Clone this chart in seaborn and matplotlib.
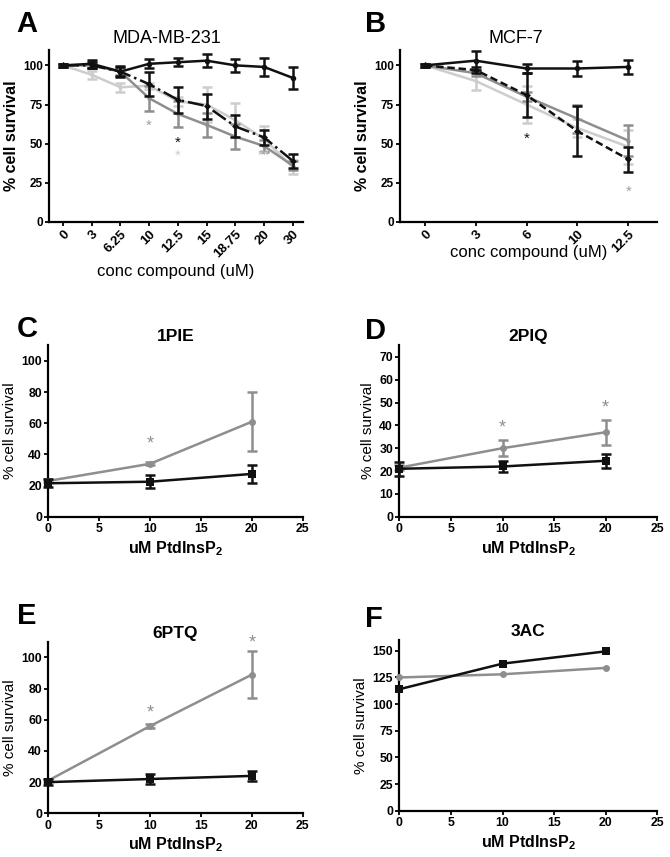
import numpy as np
import pandas as pd
import matplotlib
matplotlib.use('Agg')
import matplotlib.pyplot as plt
import seaborn as sns

# ---- data ----
# panel A, MDA-MB-231
conc_a = ['0', '3', '6.25', '10', '12.5', '15', '18.75', '20', '30']
a_ctrl = [100, 101, 96, 101, 102, 103, 100, 99, 92]
a_ctrl_err = [1, 2.5, 3.5, 3, 2.5, 4, 4, 6, 7]
a_dash = [100, 100, 96, 88, 78, 74, 61, 54, 39]
a_dash_err = [1, 2, 3, 7.5, 8.5, 8, 7, 5, 4.5]
a_dark = [100, 100, 96, 79, 69, 62, 54.5, 48.5, 36]
a_dark_err = [1, 1.5, 2, 8, 8.5, 7.5, 8, 4, 3]
a_light = [100, 94, 86, 87, 77, 75, 65, 53, 35]
a_light_err = [1, 2.5, 3, 2, 3, 11, 11, 8, 4.5]

# panel B, MCF-7
conc_b = ['0', '3', '6', '10', '12.5']
b_ctrl = [100, 103, 98, 98, 99]
b_ctrl_err = [1, 6, 3, 4.5, 4.5]
b_dash = [100, 97, 81, 58, 40]
b_dash_err = [1, 2, 14, 16, 8]
b_dark = [100, 95, 80, 66, 52]
b_dark_err = [1, 2, 3, 9, 10]
b_light = [100, 90, 75, 60, 48]
b_light_err = [1, 6, 12, 6, 11]

# panels C-F, uM PtdInsP2
ptd = [0, 10, 20]
c_drug = [23, 34, 61]
c_drug_err = [1, 1, 19]
c_ctrl = [21.5, 22.5, 27.5]
c_ctrl_err = [2.5, 4, 6]
d_drug = [21.5, 30, 37]
d_drug_err = [1, 3.5, 5.5]
d_ctrl = [21, 22, 24.5]
d_ctrl_err = [3, 2.5, 3]
e_drug = [21, 56, 89]
e_drug_err = [1, 1, 15]
e_ctrl = [20, 22, 24]
e_ctrl_err = [2, 3.5, 3]
f_drug = [125, 128, 134]
f_ctrl = [114, 138, 149.5]

BLACK = '#111111'
DARK = '#8e8e8e'
LIGHT = '#cdcdcd'
MID = '#a0a0a0'

sns.set_style('ticks')
plt.rcParams['font.family'] = ['Liberation Sans', 'DejaVu Sans']
plt.rcParams['mathtext.fontset'] = 'custom'
plt.rcParams['mathtext.rm'] = 'Liberation Sans'
plt.rcParams['mathtext.bf'] = 'Liberation Sans:bold'
plt.rcParams['axes.linewidth'] = 1.6
plt.rcParams['axes.edgecolor'] = 'black'
plt.rcParams['text.color'] = 'black'
plt.rcParams['axes.labelcolor'] = 'black'
plt.rcParams['xtick.color'] = 'black'
plt.rcParams['ytick.color'] = 'black'
plt.rcParams['xtick.major.width'] = 1.3
plt.rcParams['ytick.major.width'] = 1.3
plt.rcParams['xtick.major.size'] = 3
plt.rcParams['ytick.major.size'] = 3

fig = plt.figure(figsize=(6.7, 8.57), dpi=100)

ax_a = fig.add_axes([0.073, 0.741, 0.379, 0.201])
ax_b = fig.add_axes([0.597, 0.741, 0.384, 0.201])
ax_c = fig.add_axes([0.072, 0.397, 0.380, 0.200])
ax_d = fig.add_axes([0.596, 0.397, 0.385, 0.200])
ax_e = fig.add_axes([0.072, 0.051, 0.380, 0.200])
ax_f = fig.add_axes([0.596, 0.054, 0.385, 0.199])


def series(ax, x, y, err, color, ls='-', marker='o', ms=4, lw=1.8):
    df = pd.DataFrame({'x': x, 'y': y})
    sns.lineplot(data=df, x='x', y='y', ax=ax, color=color, linestyle=ls,
                 marker=marker, markersize=ms, markeredgewidth=0,
                 linewidth=lw, clip_on=False, zorder=3)
    if err is not None:
        ax.errorbar(x, y, yerr=err, fmt='none', ecolor=color, elinewidth=lw,
                    capsize=3.5, capthick=lw, clip_on=False, zorder=3)


def style_ax(ax, size=8.5):
    sns.despine(ax=ax)
    for t in ax.get_xticklabels() + ax.get_yticklabels():
        t.set_fontweight('bold')
        t.set_fontsize(size)
    ax.tick_params(pad=1.5)


# ---- panel A ----
xa = list(range(len(conc_a)))
series(ax_a, xa, a_light, a_light_err, LIGHT, marker='o', ms=3)
series(ax_a, xa, a_dark, a_dark_err, DARK, marker='o', ms=3)
series(ax_a, xa, a_dash, a_dash_err, BLACK, ls='-.', marker='D', ms=3.5)
series(ax_a, xa, a_ctrl, a_ctrl_err, BLACK, marker='o', ms=4)
ax_a.set_xlim(-0.49, 8.35)
ax_a.set_ylim(0, 110)
ax_a.set_yticks([0, 25, 50, 75, 100])
ax_a.set_xticks(xa)
ax_a.set_xticklabels(conc_a, rotation=45, ha='right', rotation_mode='anchor')
ax_a.text(3, 61.5, '*', color=MID, ha='center', va='center', fontsize=11)
ax_a.text(4, 50.5, '*', color=BLACK, ha='center', va='center', fontsize=11)
ax_a.text(4, 42, '*', color=LIGHT, ha='center', va='center', fontsize=11)
ax_a.text(7, 42, '**', color=LIGHT, ha='center', va='center', fontsize=11)

# ---- panel B ----
xb = list(range(len(conc_b)))
series(ax_b, xb, b_light, b_light_err, LIGHT, marker='o', ms=3)
series(ax_b, xb, b_dark, b_dark_err, DARK, marker='o', ms=3)
series(ax_b, xb, b_dash, b_dash_err, BLACK, ls=(0, (3, 1.5)), marker='D', ms=3.5)
series(ax_b, xb, b_ctrl, b_ctrl_err, BLACK, marker='o', ms=4)
ax_b.set_xlim(-0.49, 4.57)
ax_b.set_ylim(0, 110)
ax_b.set_yticks([0, 25, 50, 75, 100])
ax_b.set_xticks(xb)
ax_b.set_xticklabels(conc_b, rotation=45, ha='right', rotation_mode='anchor')
ax_b.text(2, 53, '*', color=BLACK, ha='center', va='center', fontsize=11)
ax_b.text(4, 19, '*', color=MID, ha='center', va='center', fontsize=11)

for ax, title, tx in [(ax_a, 'MDA-MB-231', 0.465), (ax_b, 'MCF-7', 0.45)]:
    style_ax(ax)
    for t in ax.get_xticklabels():
        t.set_fontsize(9.5)
    ax.set_ylabel('% cell survival', fontsize=11.5, fontweight='bold', labelpad=3)
    ax.set_xlabel('conc compound (uM)', fontsize=12, labelpad=3)
    ax.text(tx, 1.015, title, transform=ax.transAxes, ha='center', va='bottom', fontsize=13)
ax_b.xaxis.labelpad = -7

# ---- panels C-F ----
panels = [
    (ax_c, '1PIE', c_drug, c_drug_err, c_ctrl, c_ctrl_err, 110, 20, [(10, 46.7)]),
    (ax_d, '2PIQ', d_drug, d_drug_err, d_ctrl, d_ctrl_err, 75, 10, [(10, 39), (20, 47.5)]),
    (ax_e, '6PTQ', e_drug, e_drug_err, e_ctrl, e_ctrl_err, 110, 20, [(10, 64.5), (20, 109.5)]),
    (ax_f, '3AC', f_drug, None, f_ctrl, None, 160, 25, []),
]
for ax, title, drug, drug_err, ctrl, ctrl_err, ytop, ystep, stars in panels:
    series(ax, ptd, drug, drug_err, DARK, marker='o', ms=5)
    series(ax, ptd, ctrl, ctrl_err, BLACK, marker='s', ms=5.5)
    for sx, sy in stars:
        ax.text(sx, sy, '*', color=DARK, ha='center', va='center', fontsize=13)
    ax.set_xlim(0, 25)
    ax.set_ylim(0, ytop)
    ax.set_xticks([0, 5, 10, 15, 20, 25])
    ax.set_yticks(np.arange(0, ytop - 4, ystep))
    style_ax(ax, 8.8)
    ax.set_ylabel('% cell survival', fontsize=11, labelpad=3)
    ax.set_xlabel(r'uM PtdInsP$_\mathbf{2}$', fontsize=11.5, fontweight='bold', labelpad=3)
    ax.set_title(title, fontsize=12.5, fontweight='bold', pad=3)

# panel letters
for letter, x, y in [('A', 0.025, 0.988), ('B', 0.545, 0.988), ('C', 0.025, 0.633),
                     ('D', 0.545, 0.630), ('E', 0.025, 0.297), ('F', 0.545, 0.294)]:
    fig.text(x, y, letter, fontsize=21, fontweight='bold', ha='left', va='top')

fig.savefig('out.png', dpi=100)
